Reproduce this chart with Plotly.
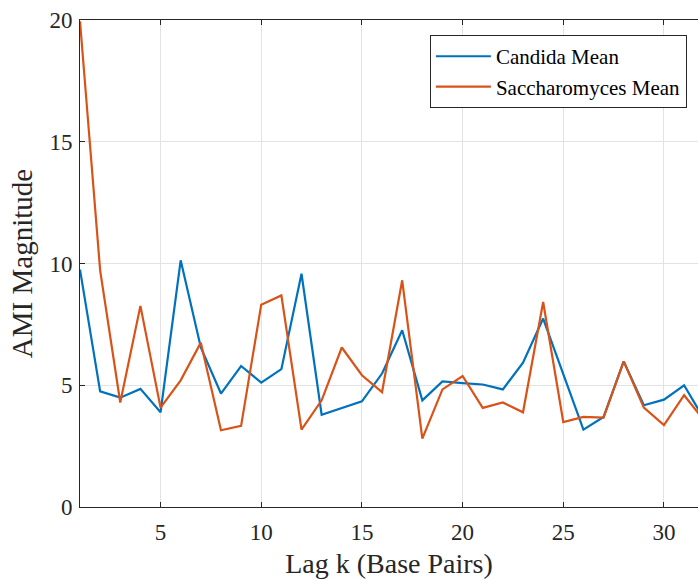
import plotly.graph_objects as go

lags = list(range(1, 33))
candida = [9.75, 4.75, 4.49, 4.85, 3.89, 10.13, 6.55, 4.66, 5.79, 5.11, 5.66, 9.58,
           3.79, 4.08, 4.34, 5.48, 7.26, 4.38, 5.16, 5.09, 5.03, 4.83, 5.93, 7.74,
           5.48, 3.18, 3.70, 5.98, 4.18, 4.41, 5.00, 3.60]
sacch = [19.95, 9.72, 4.29, 8.26, 4.08, 5.20, 6.75, 3.15, 3.33, 8.31, 8.69, 3.18,
         4.38, 6.55, 5.41, 4.72, 9.31, 2.81, 4.83, 5.38, 4.07, 4.29, 3.89, 8.42,
         3.49, 3.70, 3.67, 5.98, 4.08, 3.36, 4.59, 3.55]
x_ticks = [5, 10, 15, 20, 25, 30]
y_ticks = [0, 5, 10, 15, 20]

FONT = "Liberation Serif, Times New Roman, serif"
AX = "#262626"

fig = go.Figure()
fig.add_trace(go.Scatter(x=lags, y=candida, mode="lines", name="Candida Mean",
                         line=dict(color="#0072BD", width=2.2)))
fig.add_trace(go.Scatter(x=lags, y=sacch, mode="lines", name="Saccharomyces Mean",
                         line=dict(color="#D95319", width=2.2)))

fig.update_layout(
    width=698, height=579,
    margin=dict(l=80, r=0, t=20, b=72),
    paper_bgcolor="white", plot_bgcolor="white",
    font=dict(family=FONT, color=AX, size=23),
    showlegend=True,
    legend=dict(x=0.982, y=0.969, xanchor="right", yanchor="top",
                bgcolor="white", bordercolor=AX, borderwidth=1,
                font=dict(family=FONT, size=21, color="black"),
                tracegroupgap=0, itemwidth=55),
)
fig.update_xaxes(
    range=[1, 31.69], tickvals=x_ticks, ticktext=[str(v) for v in x_ticks],
    ticks="inside", ticklen=5, tickcolor=AX, showline=True, linecolor=AX, linewidth=1,
    mirror="ticks", showgrid=True, gridcolor="#e3e3e3", gridwidth=1, zeroline=False,
    ticklabelstandoff=4,
    title=dict(text="Lag k (Base Pairs)", font=dict(size=28, family=FONT, color=AX), standoff=12),
    tickfont=dict(size=23, family=FONT, color=AX),
)
fig.update_yaxes(
    range=[0, 20], tickvals=y_ticks, ticktext=[str(v) for v in y_ticks],
    ticks="inside", ticklen=5, tickcolor=AX, showline=True, linecolor=AX, linewidth=1,
    mirror=False, showgrid=True, gridcolor="#e3e3e3", gridwidth=1, zeroline=False,
    ticklabelstandoff=2,
    title=dict(text="AMI Magnitude", font=dict(size=29, family=FONT, color=AX), standoff=8),
    tickfont=dict(size=23, family=FONT, color=AX),
)

fig.write_html("out.html")
